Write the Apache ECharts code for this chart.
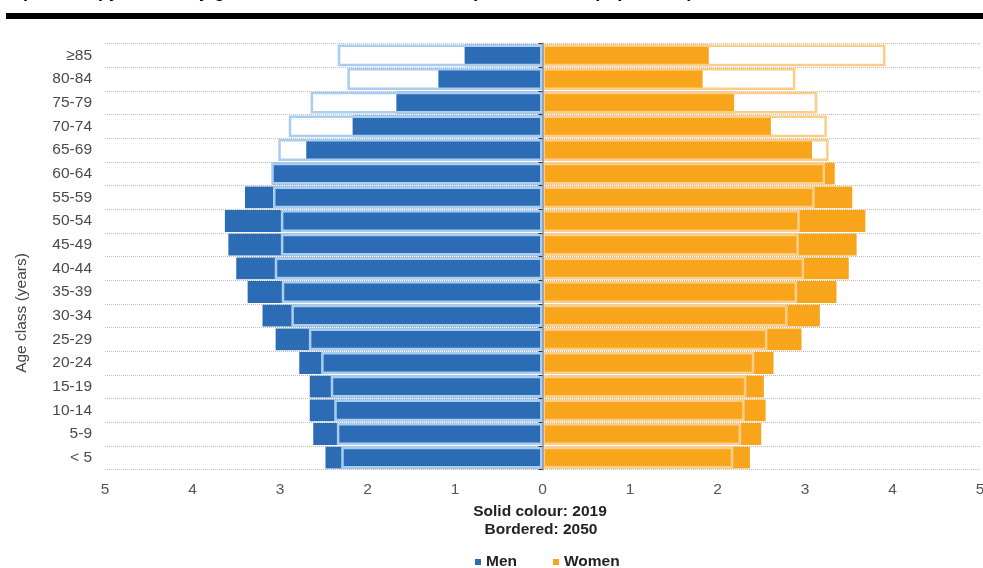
<!DOCTYPE html>
<html>
<head>
<meta charset="utf-8">
<script src="https://cdn.jsdelivr.net/npm/echarts@6/dist/echarts.min.js"></script>
<style>
html,body{margin:0;padding:0;background:#fff;}
#chart{width:983px;height:568px;}
</style>
</head>
<body>
<div id="chart"></div>
<script>
var titleText = 'Population pyramids, by gender, EU-27, 2019 and 2050 (% of the total population)';
var categories = ['< 5','5-9','10-14','15-19','20-24','25-29','30-34','35-39','40-44','45-49','50-54','55-59','60-64','65-69','70-74','75-79','80-84','\u226585'];
var men2019   = [2.48,2.62,2.66,2.66,2.78,3.05,3.20,3.37,3.50,3.59,3.63,3.40,3.09,2.70,2.17,1.67,1.19,0.89];
var men2050   = [2.30,2.35,2.38,2.42,2.53,2.67,2.87,2.98,3.06,2.99,2.99,3.08,3.10,3.02,2.90,2.65,2.23,2.34];
var women2019 = [2.37,2.50,2.55,2.53,2.64,2.96,3.17,3.36,3.50,3.59,3.69,3.54,3.34,3.08,2.61,2.19,1.83,1.90];
var women2050 = [2.18,2.27,2.31,2.33,2.42,2.57,2.80,2.91,2.99,2.93,2.94,3.11,3.23,3.27,3.25,3.14,2.89,3.92];
var xTicks = [-5,-4,-3,-2,-1,0,1,2,3,4,5];

var FONT = "'Liberation Sans', Arial, sans-serif";
var BLUE = '#2b6cb4', ORANGE = '#f8a51b';
var BLUE_B = '#a8cdf0', ORANGE_B = '#fccd88';

var chart = echarts.init(document.getElementById('chart'), null, {renderer:'canvas'});
function neg(a){ return a.map(function(v){ return -v; }); }

var option = {
  animation: false,
  backgroundColor: '#fff',
  grid: { left: 105, right: 3, top: 43.5, bottom: 98.5, containLabel: false, outerBoundsMode: 'none' },
  xAxis: {
    type: 'value', min: xTicks[0], max: xTicks[xTicks.length-1], interval: 1,
    axisLine: { show: false }, axisTick: { show: false }, splitLine: { show: false },
    axisLabel: { color: '#555', fontSize: 15.5, fontFamily: FONT, margin: 12,
      formatter: function(v){ return String(Math.abs(v)); } }
  },
  yAxis: [{
    type: 'category', data: categories,
    axisLine: { show: false, onZero: false }, axisTick: { show: false },
    axisLabel: { color: '#4a4a4a', fontSize: 15.5, fontFamily: FONT, margin: 13 },
    splitLine: { show: true, lineStyle: { type: 'dotted', color: '#bdbdbd', width: 1 } }
  }, {
    type: 'category', data: categories, position: 'left', z: 10,
    axisLine: { show: true, onZero: true, lineStyle: { color: '#9aa5b1', width: 2 } },
    axisTick: { show: true, length: 4, lineStyle: { color: '#333', width: 1 } },
    axisLabel: { show: false }, splitLine: { show: false }
  }],
  legend: {
    data: ['Men','Women'], top: 549, left: 470, icon: 'rect',
    itemWidth: 6, itemHeight: 6, itemGap: 36,
    textStyle: { color: '#222', fontSize: 15.5, fontWeight: 'bold', fontFamily: FONT }
  },
  series: [
    { name: 'Men', type: 'bar', yAxisIndex: 0, data: neg(men2019), barWidth: '92%', barGap: '-100%',
      itemStyle: { color: BLUE } },
    { name: 'Women', type: 'bar', yAxisIndex: 0, data: women2019, barWidth: '92%', barGap: '-100%',
      itemStyle: { color: ORANGE } },
    { name: 'Men 2050', type: 'bar', yAxisIndex: 0, data: neg(men2050), barWidth: '92%', barGap: '-100%',
      itemStyle: { color: 'rgba(0,0,0,0)', borderColor: BLUE_B, borderWidth: 2.5 } },
    { name: 'Women 2050', type: 'bar', yAxisIndex: 0, data: women2050, barWidth: '92%', barGap: '-100%',
      itemStyle: { color: 'rgba(0,0,0,0)', borderColor: ORANGE_B, borderWidth: 2.5 } }
  ],
  graphic: [
    { type: 'text', left: 0, top: -17, silent: true,
      style: { text: titleText, fill: '#000', font: 'bold 18px ' + FONT } },
    { type: 'rect', shape: { x: 6, y: 13, width: 977, height: 6 }, style: { fill: '#000' }, silent: true },
    { type: 'text', x: 540, y: 512, silent: true,
      style: { text: 'Solid colour: 2019', fill: '#222', font: 'bold 15.5px ' + FONT, align: 'center', verticalAlign: 'middle' } },
    { type: 'text', x: 541, y: 530, silent: true,
      style: { text: 'Bordered: 2050', fill: '#222', font: 'bold 15.5px ' + FONT, align: 'center', verticalAlign: 'middle' } },
    { type: 'text', x: 22, y: 313, rotation: Math.PI/2, silent: true,
      style: { text: 'Age class (years)', fill: '#444', font: '15.5px ' + FONT, align: 'center', verticalAlign: 'middle' } }
  ]
};
chart.setOption(option);
</script>
</body>
</html>
